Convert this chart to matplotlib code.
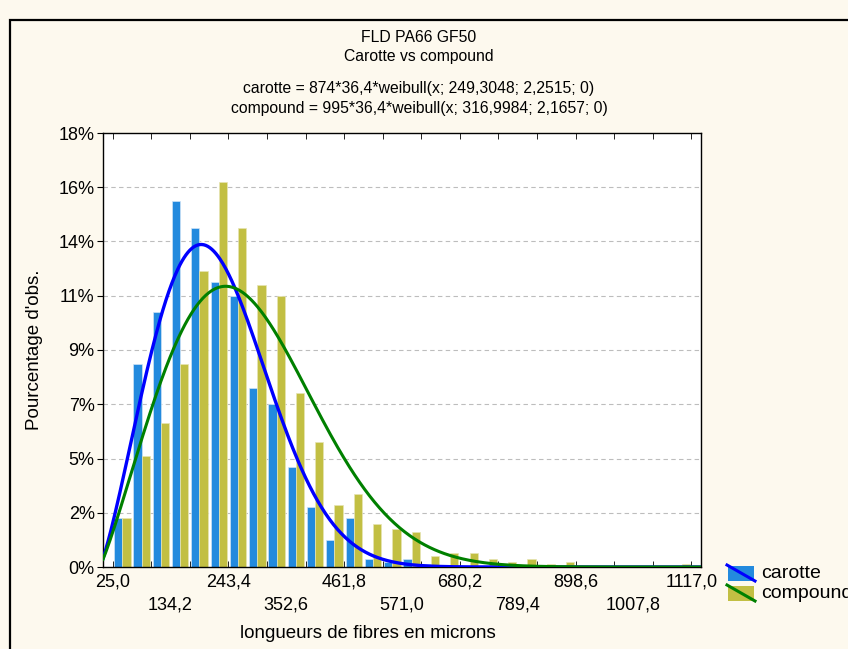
import numpy as np
import matplotlib.pyplot as plt
from matplotlib import font_manager
from matplotlib.patches import Rectangle
from matplotlib.lines import Line2D

plt.rcParams['font.family'] = ['Liberation Sans', 'DejaVu Sans']

# classes: 30 bins of 36,4 microns starting at 25,0
x_start = 25.0
bin_width = 36.4
n_bins = 30

# counts per class
carotte = [18, 75, 94, 135, 125, 105, 100, 66, 60, 37, 22, 10, 18, 3, 2,
           3, 1, 0, 0, 0, 0, 0, 0, 0, 0, 0, 0, 0, 0, 0]
compound = [18, 41, 53, 75, 109, 142, 125, 104, 100, 64, 46, 23, 27, 16, 14,
            13, 4, 5, 5, 3, 2, 3, 1, 2, 0, 0, 0, 0, 0, 1]

# fitted weibull (from the chart header)
n_car, scale_car, shape_car = 874, 249.3048, 2.2515
n_comp, scale_comp, shape_comp = 995, 316.9984, 2.1657

y_ticks = [0, 20, 40, 60, 80, 100, 120, 140, 160]
y_labels = ['0%', '2%', '5%', '7%', '9%', '11%', '14%', '16%', '18%']
x_label_pos = [25.0, 134.2, 243.4, 352.6, 461.8, 571.0, 680.2, 789.4, 898.6, 1007.8, 1117.0]
x_labels = ['25,0', '134,2', '243,4', '352,6', '461,8', '571,0', '680,2', '789,4', '898,6', '1007,8', '1117,0']

BLUE = '#238ade'
YELLOW = '#c2bf43'
BG = '#fdf9ee'

# header font is a narrow one in the original
try:
    font_manager.findfont('Liberation Sans Narrow', fallback_to_default=False)
    head_font, head_size = ['Liberation Sans Narrow', 'DejaVu Sans'], 13
except ValueError:
    head_font, head_size = ['Liberation Sans', 'DejaVu Sans'], 11.3


def weibull(x, scale, shape):
    z = x / scale
    return (shape / scale) * z ** (shape - 1) * np.exp(-z ** shape)


W, H = 848, 649
fig = plt.figure(figsize=(W / 100, H / 100), dpi=100, facecolor=BG)
ax = fig.add_axes([103 / W, 1 - 567 / H, 598 / W, 434 / H])
ax.set_facecolor('white')

centers = x_start + bin_width * (np.arange(n_bins) + 0.5)
bw = 15.5
ax.bar(centers - bw / 2, carotte, width=bw, color=BLUE, edgecolor='#cfe3f6', linewidth=0.5, zorder=2)
ax.bar(centers + bw / 2, compound, width=bw, color=YELLOW, edgecolor='#e6e4b4', linewidth=0.5, zorder=2)

lo = x_start - bin_width / 2
hi = x_start + bin_width * n_bins + bin_width / 2
xs = np.linspace(lo, hi, 600)
ax.plot(xs, n_car * bin_width * weibull(xs, scale_car, shape_car), color='#0000ff', lw=2.4, zorder=3)
ax.plot(xs, n_comp * bin_width * weibull(xs, scale_comp, shape_comp), color='#008000', lw=2.2, zorder=3)

ax.set_xlim(lo, hi)
ax.set_ylim(0, 160)

# y axis
ax.set_yticks(y_ticks)
ax.set_yticklabels(y_labels, fontsize=13)
ax.tick_params(axis='y', direction='out', length=4, pad=2)
for v in y_ticks[1:-1]:
    ax.axhline(v, color='#bdbdbd', lw=0.8, ls=(0, (4, 3)), zorder=1)

# x axis: labels every 3 classes on two rows, tick marks every 2 classes
ax.xaxis.remove_overlapping_locs = False
ax.set_xticks(x_label_pos)
ax.set_xticklabels([t if i % 2 == 0 else '\n' + t for i, t in enumerate(x_labels)],
                   fontsize=13, linespacing=1.45)
ax.tick_params(axis='x', which='major', length=0, pad=5)
ax.set_xticks(x_start + 2 * bin_width * np.arange(16), minor=True)
ax.tick_params(axis='x', which='minor', direction='in', length=4, top=True, bottom=True)

for s in ax.spines.values():
    s.set_color('black')
    s.set_linewidth(1.0)

# headers
cx = 419 / W
fig.text(cx, 1 - 37 / H, 'FLD PA66 GF50', ha='center', va='center', fontsize=head_size, family=head_font)
fig.text(cx, 1 - 56 / H, 'Carotte vs compound', ha='center', va='center', fontsize=head_size, family=head_font)
fig.text(cx, 1 - 88 / H, 'carotte = 874*36,4*weibull(x; 249,3048; 2,2515; 0)', ha='center', va='center',
         fontsize=head_size, family=head_font)
fig.text(cx, 1 - 108 / H, 'compound = 995*36,4*weibull(x; 316,9984; 2,1657; 0)', ha='center', va='center',
         fontsize=head_size, family=head_font)

fig.text(368 / W, 1 - 633 / H, 'longueurs de fibres en microns', ha='center', va='center', fontsize=13.5)
fig.text(35 / W, 1 - 350 / H, "Pourcentage d'obs.", ha='center', va='center', rotation=90, fontsize=13.5)

# legend (the original cuts the last letter of "compound" at the right edge)
for i, (name, fc, lc) in enumerate([('carotte', BLUE, '#0000ff'), ('compound', YELLOW, '#008000')]):
    y0 = 566 + i * 20
    fig.add_artist(Rectangle((728 / W, 1 - (y0 + 15) / H), 26 / W, 15 / H,
                             transform=fig.transFigure, facecolor=fc, edgecolor='none'))
    fig.add_artist(Line2D([727 / W, 755 / W], [1 - (y0 - 1) / H, 1 - (y0 + 15) / H],
                          transform=fig.transFigure, color=lc, lw=2.2))
    fig.text(761 / W, 1 - (y0 + 7) / H, name, ha='left', va='center', fontsize=14)

# graph window frame
fig.add_artist(Rectangle((10 / W, -0.2), 1.2, 1 - 20 / H + 0.2, transform=fig.transFigure,
                         fill=False, edgecolor='black', lw=1.6))

fig.savefig('out.png', dpi=100, facecolor=BG)
